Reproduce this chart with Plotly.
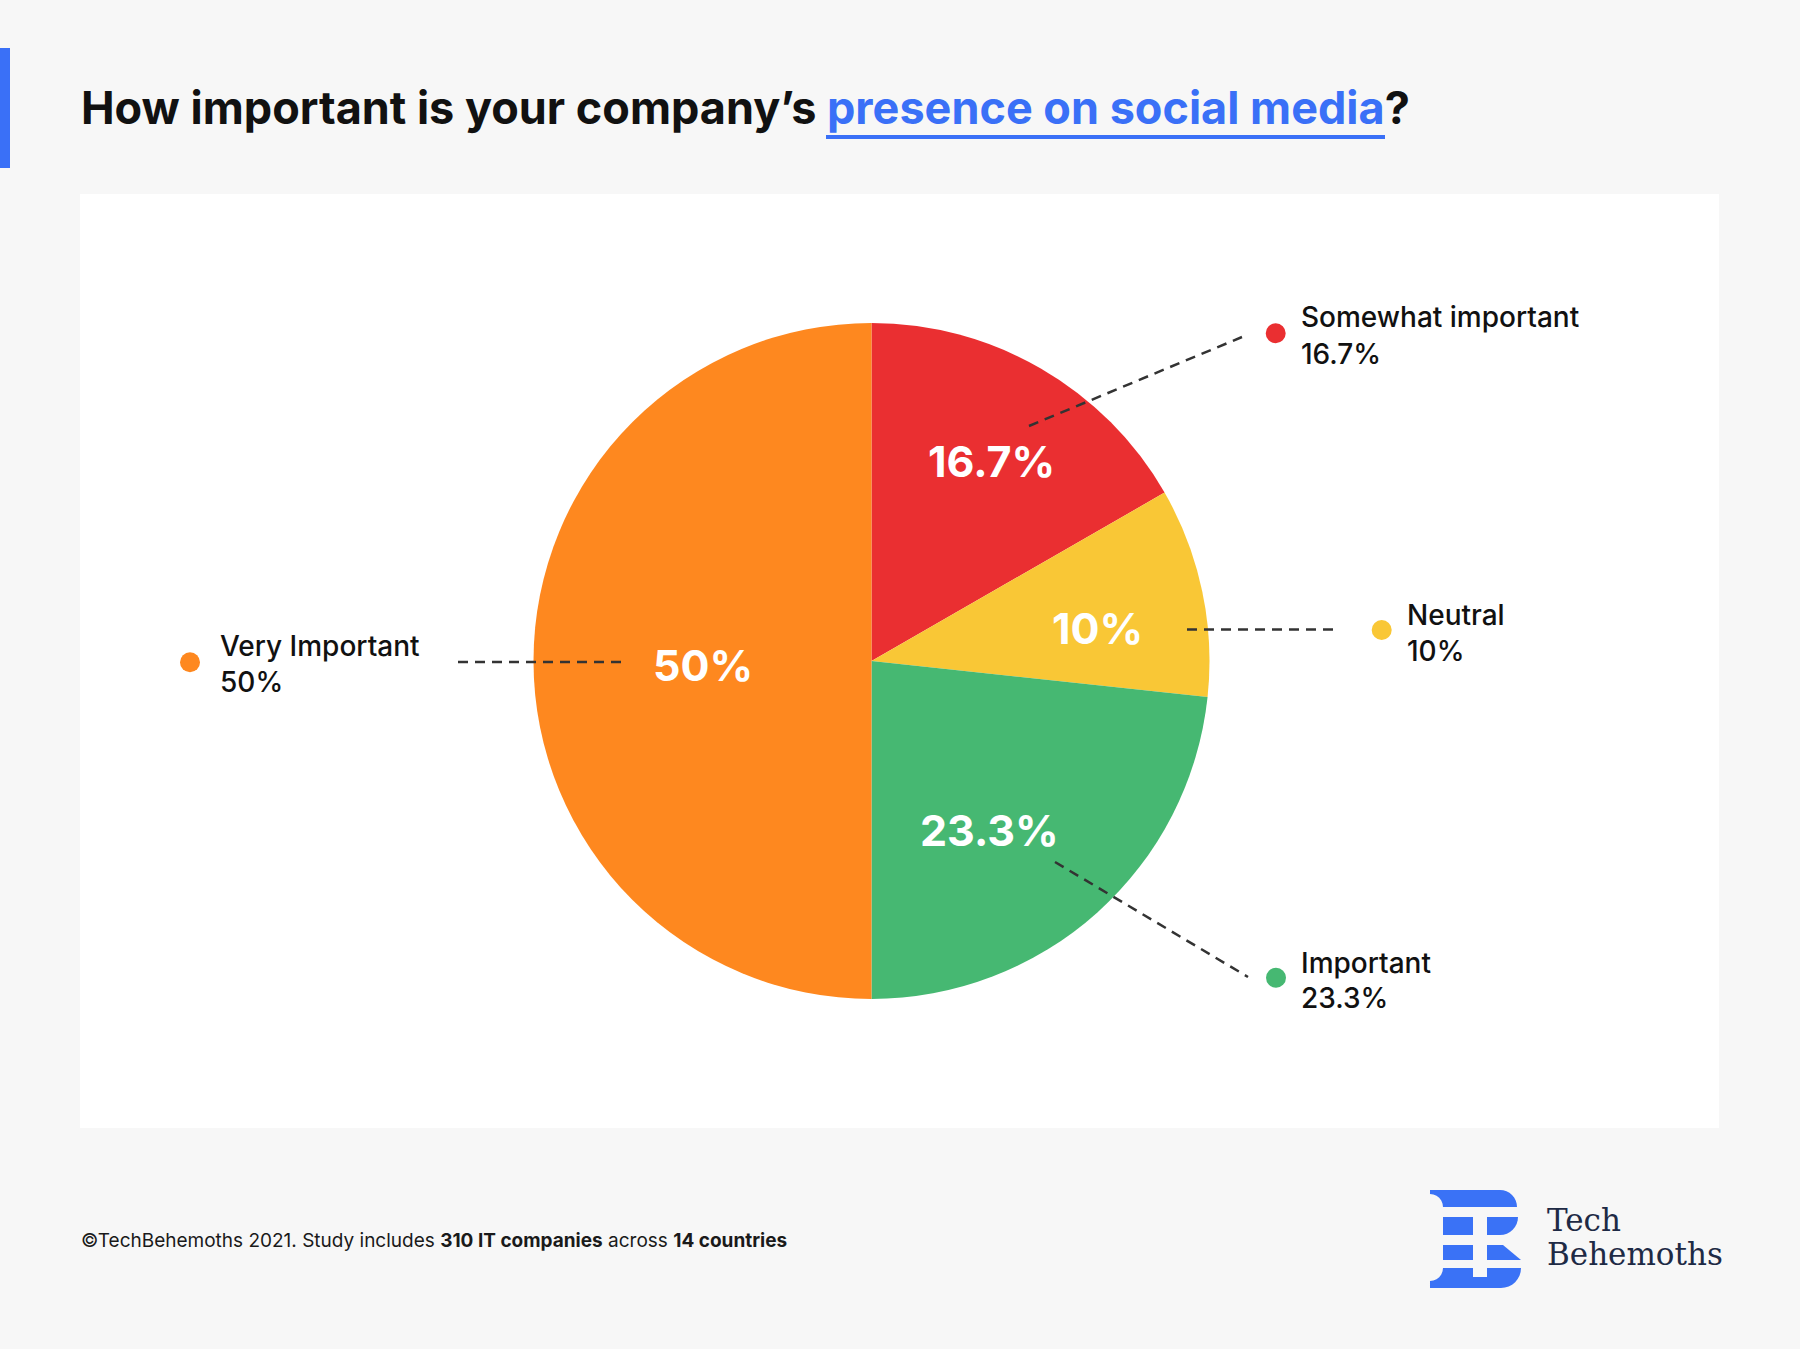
import math
import plotly.graph_objects as go

# ---------------- data ----------------
categories = ["Somewhat important", "Neutral", "Important", "Very Important"]
values = [16.7, 10, 23.3, 50]
value_labels = ["16.7%", "10%", "23.3%", "50%"]
colors = ["#EA2F31", "#F9C736", "#46B872", "#FE881F"]

# ---------------- layout constants (pixels) ----------------
W, H = 1800, 1349
CX, CY, R = 871.5, 661, 338
BG = "#F7F7F7"
BLUE = "#3A70F7"
TXT = "#111111"
FONT = "Inter"


def px(x):
    return x / W


def py(y):
    return 1 - y / H


fig = go.Figure()

fig.add_trace(go.Pie(
    labels=categories,
    values=values,
    sort=False,
    direction="clockwise",
    rotation=0,
    marker=dict(colors=colors, line=dict(width=0)),
    textinfo="none",
    hoverinfo="skip",
    showlegend=False,
    domain=dict(x=[px(CX - R), px(CX + R)], y=[py(CY + R), py(CY - R)]),
))

shapes = []
annotations = []

# white panel
shapes.append(dict(type="rect", xref="paper", yref="paper", layer="below",
                   x0=px(80), x1=px(1719), y0=py(1128), y1=py(194),
                   fillcolor="white", line=dict(width=0)))
# left accent bar
shapes.append(dict(type="rect", xref="paper", yref="paper", layer="below",
                   x0=0, x1=px(10), y0=py(168), y1=py(48),
                   fillcolor=BLUE, line=dict(width=0)))

# title
annotations.append(dict(
    xref="paper", yref="paper", x=px(79), y=py(108), xanchor="left", yanchor="middle",
    showarrow=False,
    text="<b>How important is your company’s <span style='color:%s'>presence on social media</span>?</b>" % BLUE,
    font=dict(family=FONT, size=45, color=TXT),
))
# title underline
shapes.append(dict(type="line", xref="paper", yref="paper", layer="above",
                   x0=px(826), x1=px(1385), y0=py(137), y1=py(137),
                   line=dict(color=BLUE, width=4)))

# inside value labels, placed along each slice's mid-angle
label_radius_frac = [0.69, 0.677, 0.609, 0.5]
label_angle_nudge = [0.9, 3.5, 6.9, -1.4]
total = sum(values)
start = 0.0
for i, v in enumerate(values):
    span = 360.0 * v / total
    mid = start + span / 2 + label_angle_nudge[i]
    start += span
    th = math.radians(mid)
    x = CX + label_radius_frac[i] * R * math.sin(th)
    y = CY - label_radius_frac[i] * R * math.cos(th)
    annotations.append(dict(
        xref="paper", yref="paper", x=px(x), y=py(y), xanchor="center", yanchor="middle",
        showarrow=False, text="<b>%s</b>" % value_labels[i],
        font=dict(family=FONT, size=43, color="white"),
    ))

# external labels: dot position, text x, line centres
ext_dot = [(1275.7, 333.3), (1381.7, 630), (1276, 977.7), (190, 662.3)]
ext_text_x = [1299, 1405, 1299, 218]
ext_line1_y = [317.5, 615, 963, 646]
ext_line2_y = [354, 651, 998, 682]
leaders = [((1029, 426), (1242, 337)),
           ((1187, 629.5), (1337, 629.5)),
           ((1055, 862), (1248, 977)),
           ((458, 662), (625, 662))]

for i, cat in enumerate(categories):
    dx, dy = ext_dot[i]
    shapes.append(dict(type="circle", xref="paper", yref="paper", layer="above",
                       x0=px(dx - 10), x1=px(dx + 10), y0=py(dy + 10), y1=py(dy - 10),
                       fillcolor=colors[i], line=dict(width=0)))
    annotations.append(dict(
        xref="paper", yref="paper", x=px(ext_text_x[i]), y=py(ext_line1_y[i]),
        xanchor="left", yanchor="middle", showarrow=False, text=cat,
        font=dict(family=FONT, size=28, color=TXT, weight=500),
    ))
    annotations.append(dict(
        xref="paper", yref="paper", x=px(ext_text_x[i]), y=py(ext_line2_y[i]),
        xanchor="left", yanchor="middle", showarrow=False, text=value_labels[i],
        font=dict(family=FONT, size=28, color=TXT, weight=500),
    ))
    (x0, y0), (x1, y1) = leaders[i]
    shapes.append(dict(type="line", xref="paper", yref="paper", layer="above",
                       x0=px(x0), y0=py(y0), x1=px(x1), y1=py(y1),
                       line=dict(color="#333333", width=2.5, dash="10px,7px")))

# footer
annotations.append(dict(
    xref="paper", yref="paper", x=px(79), y=py(1240), xanchor="left", yanchor="middle",
    showarrow=False,
    text="©TechBehemoths 2021. Study includes <b>310 IT companies</b> across <b>14 countries</b>",
    font=dict(family=FONT, size=19, color="#1a1a1a"),
))

# logo icon (stylised B)
LOGO = "#3A72F6"


def P(pts):
    return " ".join(("M" if k == 0 else "L") + "%.5f,%.5f" % (px(a), py(b)) for k, (a, b) in enumerate(pts)) + " Z"


def arc(x0, y0, r, a0, a1, n=10):
    out = []
    for k in range(n + 1):
        a = math.radians(a0 + (a1 - a0) * k / n)
        out.append((x0 + r * math.cos(a), y0 + r * math.sin(a)))
    return out


band1 = [(1430, 1190), (1500, 1190)] + arc(1500, 1207, 17, -90, 0, 8) + [(1443, 1207)] + arc(1430, 1207, 13, 0, -90, 6)[1:]
band2 = [(1443, 1217), (1518, 1217)] + arc(1500, 1217, 18, 0, 90, 8) + [(1443, 1235)]
band3 = [(1443, 1245), (1503, 1245), (1521, 1260), (1443, 1260)]
band4 = [(1443, 1268), (1521, 1268)] + arc(1501, 1268, 20, 0, 90, 8) + [(1430, 1288), (1430, 1281)] + arc(1430, 1268, 13, 90, 0, 6)[1:]
for b in (band1, band2, band3, band4):
    shapes.append(dict(type="path", xref="paper", yref="paper", layer="above",
                       path=P(b), fillcolor=LOGO, line=dict(width=0)))
shapes.append(dict(type="rect", xref="paper", yref="paper", layer="above",
                   x0=px(1473), x1=px(1487), y0=py(1277), y1=py(1212),
                   fillcolor=BG, line=dict(width=0)))

annotations.append(dict(
    xref="paper", yref="paper", x=px(1545), y=py(1220), xanchor="left", yanchor="middle",
    showarrow=False, text="Tech",
    font=dict(family="DejaVu Serif", size=31, color="#1E2A45"),
))
annotations.append(dict(
    xref="paper", yref="paper", x=px(1545), y=py(1254), xanchor="left", yanchor="middle",
    showarrow=False, text="Behemoths",
    font=dict(family="DejaVu Serif", size=31, color="#1E2A45"),
))

fig.update_layout(
    width=W, height=H,
    margin=dict(l=0, r=0, t=0, b=0),
    paper_bgcolor=BG,
    plot_bgcolor=BG,
    shapes=shapes,
    annotations=annotations,
    xaxis=dict(visible=False),
    yaxis=dict(visible=False),
)

fig.write_html(
    "out.html",
    config={"displayModeBar": False},
    post_script="document.body.style.margin='0';document.body.style.padding='0';document.body.style.overflow='hidden';",
)
